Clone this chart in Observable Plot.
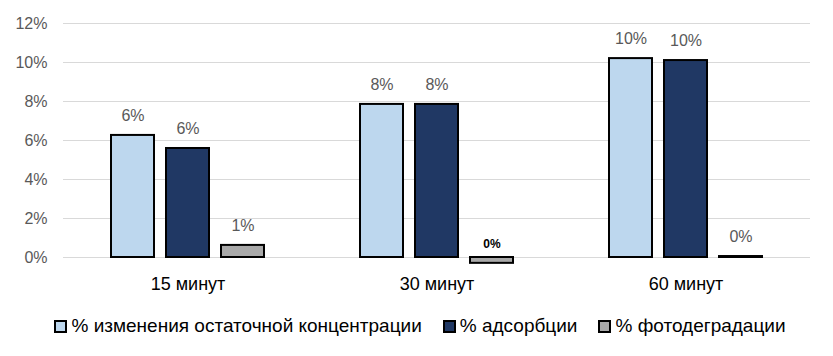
<!DOCTYPE html>
<html>
<head>
<meta charset="utf-8">
<script src="https://cdn.jsdelivr.net/npm/d3@7"></script>
<script src="https://cdn.jsdelivr.net/npm/@observablehq/plot@0.6"></script>
<style>
  html, body { margin: 0; padding: 0; background: #fff; }
  #chart { width: 833px; }
  .legend { display: flex; justify-content: center; gap: 21px; font-family: "Liberation Sans", sans-serif; font-size: 19px; color: #000; margin-top: 14px; padding-left: 7px; line-height: 24px; }
  .legend span.item { display: flex; align-items: center; }
  .legend span.sw { display: inline-block; width: 9px; height: 9px; border: 2px solid #000; margin-right: 4px; }
</style>
</head>
<body>
<div id="chart"></div>
<script>
const categories = ["15 минут", "30 минут", "60 минут"];
const series = ["% изменения остаточной концентрации", "% адсорбции", "% фотодеградации"];
const changeValues = [0.0626, 0.0785, 0.1020];
const adsorptionValues = [0.0559, 0.0785, 0.1010];
const photoValues = [0.0062, -0.0030, 0.0005];
const yTicks = [0, 0.02, 0.04, 0.06, 0.08, 0.10, 0.12];
const colors = ["#BDD7EE", "#203864", "#A9A9A9"];

const valueSets = [changeValues, adsorptionValues, photoValues];
const data = [];
categories.forEach((c, i) => {
  series.forEach((s, j) => {
    data.push({category: c, series: s, value: valueSets[j][i]});
  });
});
const fmt = v => Math.round(Math.abs(v) * 100) + "%";
const font = "'Liberation Sans', sans-serif";

const plot = Plot.plot({
  width: 833,
  height: 300,
  marginLeft: 62,
  marginRight: 23,
  marginTop: 23,
  marginBottom: 43,
  style: {fontFamily: font, fontSize: "16px", color: "#595959", background: "#fff"},
  fx: {domain: categories, padding: 0, label: null},
  x: {domain: series, paddingInner: 0.22, paddingOuter: 0.87, axis: null},
  y: {domain: [0, 0.12], label: null},
  color: {domain: series, range: colors},
  marks: [
    Plot.gridY(yTicks, {stroke: "#d9d9d9", strokeOpacity: 1, strokeWidth: 1.2}),
    Plot.axisY(yTicks, {tickSize: 0, tickPadding: 16, tickFormat: d3.format(".0%"), fontSize: 16, fill: "#595959", label: null}),
    Plot.axisFx({anchor: "bottom", tickSize: 0, tickPadding: 20, fontSize: 18, fill: "#000", label: null}),
    Plot.barY(data, {fx: "category", x: "series", y: "value", fill: "series", stroke: "#000", strokeWidth: 2}),
    Plot.text(data.filter(d => d.value >= 0), {fx: "category", x: "series", y: "value", text: d => fmt(d.value), dy: -20, fontSize: 16, fill: "#595959"}),
    Plot.text(data.filter(d => d.value < 0), {fx: "category", x: "series", y: 0, text: d => fmt(d.value), dy: -13, fontSize: 12, fontWeight: "bold", fill: "#000", stroke: "#fff", strokeWidth: 6, paintOrder: "stroke"})
  ]
});
document.getElementById("chart").appendChild(plot);

const legend = document.createElement("div");
legend.className = "legend";
series.forEach((s, j) => {
  const item = document.createElement("span");
  item.className = "item";
  const sw = document.createElement("span");
  sw.className = "sw";
  sw.style.background = colors[j];
  item.appendChild(sw);
  item.appendChild(document.createTextNode(s));
  legend.appendChild(item);
});
document.getElementById("chart").appendChild(legend);
</script>
</body>
</html>
